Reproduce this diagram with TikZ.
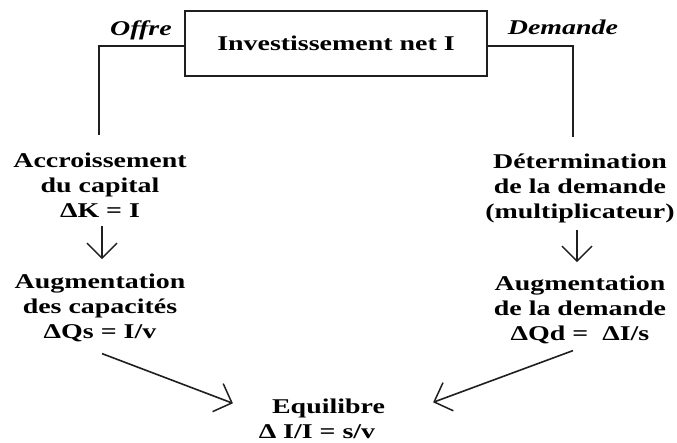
\documentclass[tikz,border=0pt]{standalone}
\usepackage{fontspec}
\setmainfont{Liberation Serif}[FakeStretch=1.33]
\usetikzlibrary{arrows.meta}
\begin{document}
\begin{tikzpicture}[x=1pt,y=-1pt,
  txt/.style={font=\fontsize{21}{25}\selectfont\bfseries, align=center, inner sep=0pt},
  lbl/.style={font=\fontsize{21}{25}\selectfont\bfseries\itshape, inner sep=0pt, anchor=base},
  ln/.style={line width=1.8pt, draw=black!88},
  arr/.style={line width=1.6pt, draw=black!88, -{Straight Barb[length=15pt,width=30pt,line width=1.5pt]}}
]
\useasboundingbox[fill=white] (0,0) rectangle (677,443);

\node[draw, ln, minimum width=302pt, minimum height=65pt, txt] (box) at (336,43.5) {Investissement net I};
\node[lbl] (offre) at (141,36) {Offre};
\node[lbl] (demande) at (563,35) {Demande};

\coordinate (lc) at (99,46);
\coordinate (lb) at (99,135);
\coordinate (rc) at (573,46);
\coordinate (rb) at (573,137);
\draw[ln] (box.west |- lc) -- (lc) -- (lb);
\draw[ln] (box.east |- rc) -- (rc) -- (rb);

\node[txt, anchor=base] (acc) at (100,218) {Accroissement\\du capital\\ΔK = I};
\node[txt, anchor=base] (augs) at (100,338) {Augmentation\\des capacités\\ΔQs = I/v};
\node[txt, anchor=base] (det) at (580,219) {Détermination\\de la demande\\(multiplicateur)};
\node[txt, anchor=base] (augd) at (580,341) {Augmentation\\de la demande\\ΔQd =\ \ ΔI/s};
\node[txt, anchor=base] (eq) at (317,438) {\hspace*{23pt}Equilibre\\Δ I/I = s/v};

\coordinate (la) at (acc.south |- augs.north);
\coordinate (ra) at (det.south |- augd.north);
\draw[arr] ([shift={(2,8)}]acc.south) -- ([shift={(2,-14)}]la);
\draw[arr] ([shift={(-3,6)}]det.south) -- ([shift={(-3,-14)}]ra);
\draw[arr] ([shift={(2,12)}]augs.south) -- ([shift={(-16,-15)}]eq.west);
\draw[arr] ([shift={(-7,6)}]augd.south) -- ([shift={(48,-16)}]eq.east);
\end{tikzpicture}
\end{document}
